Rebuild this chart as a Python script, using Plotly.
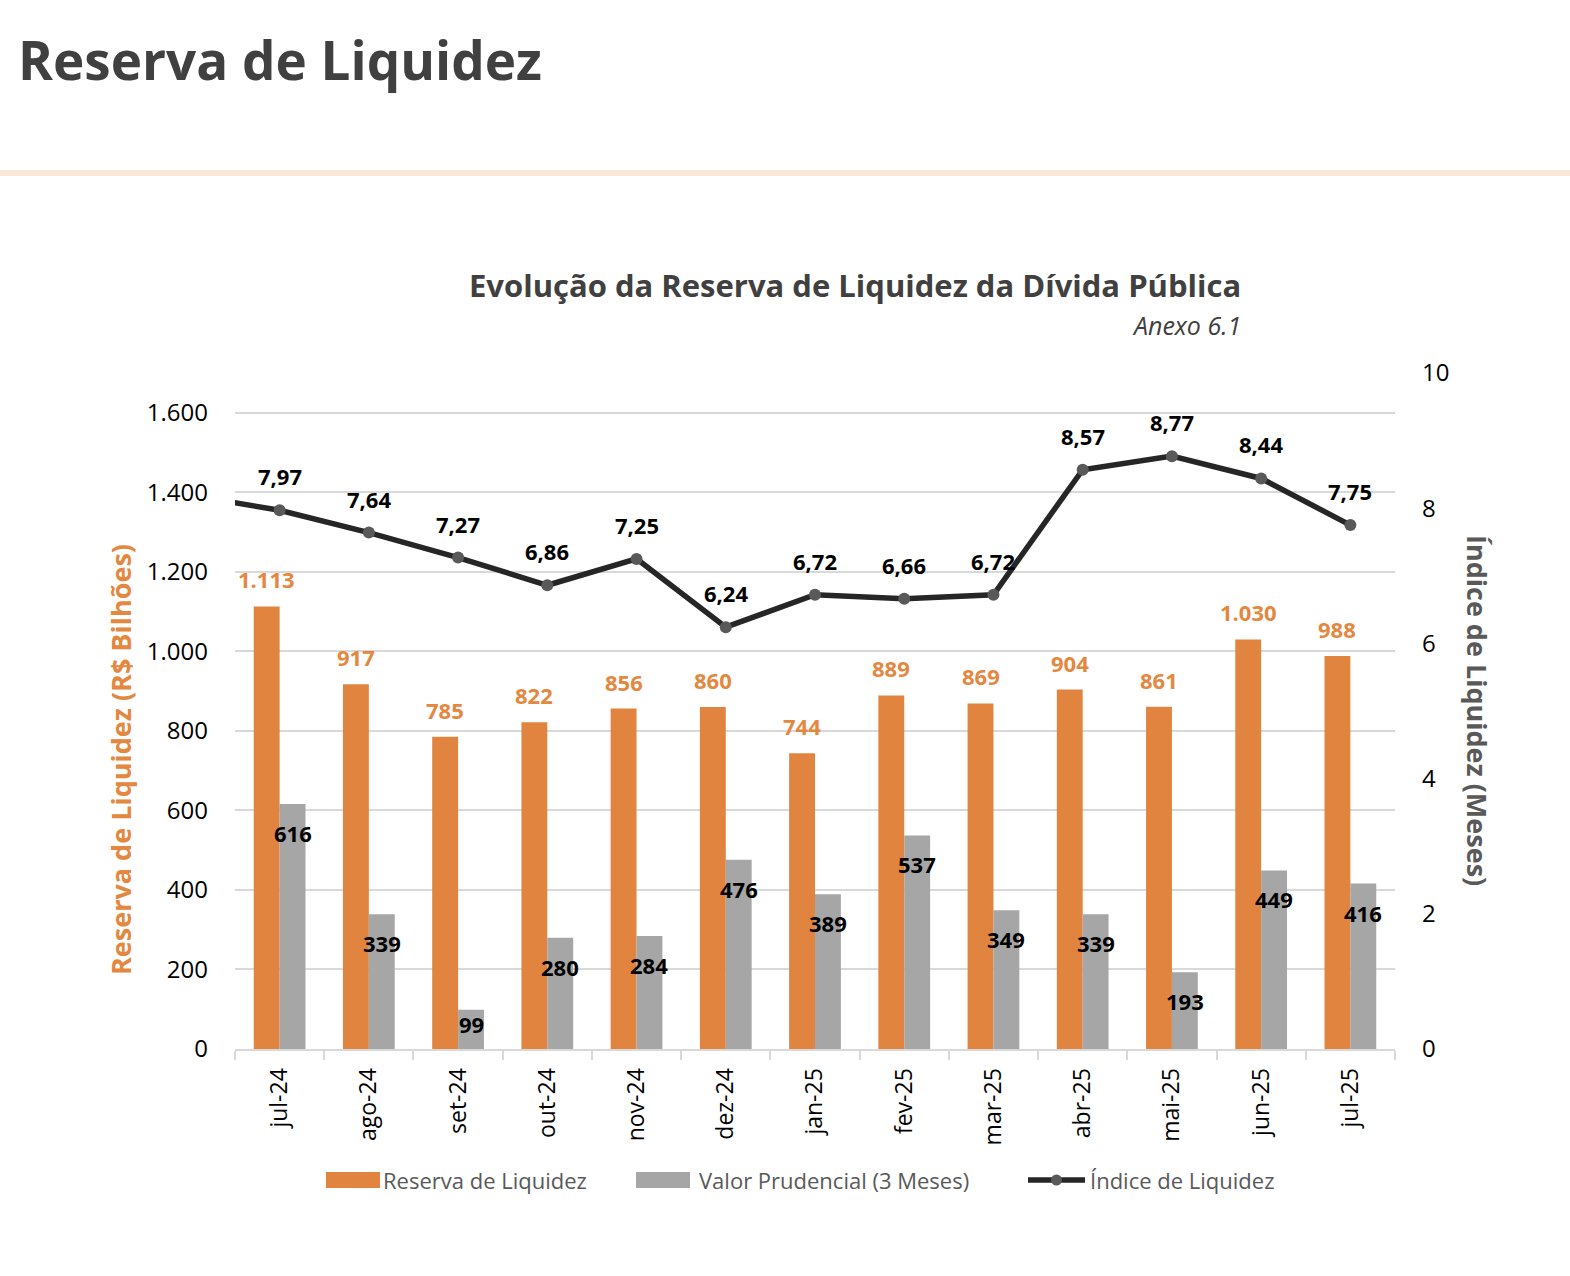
import plotly.graph_objects as go

# ---------------- data ----------------
months = ["jul-24", "ago-24", "set-24", "out-24", "nov-24", "dez-24", "jan-25",
          "fev-25", "mar-25", "abr-25", "mai-25", "jun-25", "jul-25"]
reserva = [1113, 917, 785, 822, 856, 860, 744, 889, 869, 904, 861, 1030, 988]
prudencial = [616, 339, 99, 280, 284, 476, 389, 537, 349, 339, 193, 449, 416]
indice = [7.97, 7.64, 7.27, 6.86, 7.25, 6.24, 6.72, 6.66, 6.72, 8.57, 8.77, 8.44, 7.75]
# previous month (jun-24), only its segment entering the plot is visible
indice_prev = 8.19

left_ticks = [0, 200, 400, 600, 800, 1000, 1200, 1400, 1600]
left_ticktext = ["0", "200", "400", "600", "800", "1.000", "1.200", "1.400", "1.600"]
right_ticks = [0, 2, 4, 6, 8, 10]

# ---------------- style ----------------
W, H = 1570, 1276
FONT = "Open Sans"
ORANGE = "#E0843F"
ORANGE_TXT = "#E4873F"
GRAY = "#A6A6A6"
LINE = "#262626"
MARK = "#595959"
DARK = "#404040"
GRID = "#D9D9D9"

PX_L, PX_R, PX_T, PX_B = 235, 1395, 373, 1049
L_MAX, R_MAX = 1700, 10
px_per_unit = (PX_B - PX_T) / L_MAX


def px(x):
    return x / W


def py(y):
    return 1 - y / H


def fmt_int(v):
    return f"{v:,}".replace(",", ".")


def fmt_dec(v):
    return f"{v:.2f}".replace(".", ",")


xs = list(range(len(months)))
BW = 0.29

fig = go.Figure()
fig.add_trace(go.Bar(x=xs, y=reserva, width=BW, offset=-BW, marker_color=ORANGE,
                     marker_line_width=0, name="Reserva de Liquidez", showlegend=False))
fig.add_trace(go.Bar(x=xs, y=prudencial, width=BW, offset=0, marker_color=GRAY,
                     marker_line_width=0, name="Valor Prudencial (3 Meses)", showlegend=False))
fig.add_trace(go.Scatter(x=[-1] + xs, y=[indice_prev] + indice, yaxis="y2", mode="lines+markers",
                         line=dict(color=LINE, width=5.5),
                         marker=dict(color=MARK, size=12, line=dict(width=0)),
                         name="Índice de Liquidez", showlegend=False, cliponaxis=True))

ann = []
for i, v in enumerate(reserva):
    ann.append(dict(x=i - BW / 2, y=v, xref="x", yref="y", text=f"<b>{fmt_int(v)}</b>",
                    showarrow=False, yshift=27, font=dict(family=FONT, size=22, color=ORANGE_TXT)))
for i, v in enumerate(prudencial):
    shift = -min(29, v * px_per_unit - 25)
    ann.append(dict(x=i + BW / 2, y=v, xref="x", yref="y", text=f"<b>{fmt_int(v)}</b>",
                    showarrow=False, yshift=shift, font=dict(family=FONT, size=22, color="#000000")))
for i, v in enumerate(indice):
    ann.append(dict(x=i, y=v, xref="x", yref="y2", text=f"<b>{fmt_dec(v)}</b>",
                    showarrow=False, yshift=34, font=dict(family=FONT, size=22, color="#000000")))

# titles
ann.append(dict(x=px(16), y=py(59), xref="paper", yref="paper", xanchor="left", yanchor="middle",
                text="<b>Reserva de Liquidez</b>", showarrow=False,
                font=dict(family=FONT, size=53, color=DARK)))
ann.append(dict(x=px(1243), y=py(285), xref="paper", yref="paper", xanchor="right", yanchor="middle",
                text="<b>Evolução da Reserva de Liquidez da Dívida Pública</b>", showarrow=False,
                font=dict(family=FONT, size=31, color=DARK)))
ann.append(dict(x=px(1243), y=py(325), xref="paper", yref="paper", xanchor="right", yanchor="middle",
                text="<i>Anexo 6.1</i>", showarrow=False,
                font=dict(family=FONT, size=25, color=DARK)))
# axis titles
ann.append(dict(x=px(120), y=py(760), xref="paper", yref="paper", xanchor="center", yanchor="middle",
                text="<b>Reserva de Liquidez (R$ Bilhões)</b>", textangle=-90, showarrow=False,
                font=dict(family=FONT, size=27, color=ORANGE_TXT)))
ann.append(dict(x=px(1478), y=py(710), xref="paper", yref="paper", xanchor="center", yanchor="middle",
                text="<b>Índice de Liquidez (Meses)</b>", textangle=90, showarrow=False,
                font=dict(family=FONT, size=27, color="#595959")))

# custom legend
LEG_Y = 1180
shapes = [
    dict(type="line", xref="paper", yref="paper", x0=0, x1=1, y0=py(173), y1=py(173),
         line=dict(color="#FBE8D9", width=6)),
    dict(type="rect", xref="paper", yref="paper", x0=px(326), x1=px(380), y0=py(LEG_Y - 8),
         y1=py(LEG_Y + 8), fillcolor=ORANGE, line=dict(width=0)),
    dict(type="rect", xref="paper", yref="paper", x0=px(636), x1=px(690), y0=py(LEG_Y - 8),
         y1=py(LEG_Y + 8), fillcolor=GRAY, line=dict(width=0)),
    dict(type="line", xref="paper", yref="paper", x0=px(1028), x1=px(1085), y0=py(LEG_Y),
         y1=py(LEG_Y), line=dict(color=LINE, width=5.5)),
    dict(type="circle", xref="paper", yref="paper", x0=px(1051), x1=px(1062), y0=py(LEG_Y - 5.5),
         y1=py(LEG_Y + 5.5), fillcolor=MARK, line=dict(width=0)),
]
for xx, t in [(381, "Reserva de Liquidez"), (697, "Valor Prudencial (3 Meses)"), (1088, "Índice de Liquidez")]:
    ann.append(dict(x=px(xx), y=py(LEG_Y), xref="paper", yref="paper", xanchor="left", yanchor="middle",
                    text=t, showarrow=False, font=dict(family=FONT, size=22, color="#595959")))

fig.update_layout(
    template="none",
    width=W, height=H, autosize=False,
    margin=dict(l=0, r=0, t=0, b=0, pad=0, autoexpand=False),
    paper_bgcolor="white", plot_bgcolor="white",
    barmode="overlay",
    showlegend=False,
    font=dict(family=FONT, color="#000000"),
    xaxis=dict(domain=[px(PX_L), px(PX_R)], range=[-0.5, len(months) - 0.5], automargin=False,
               tickmode="array", tickvals=xs, ticktext=months, tickangle=-90,
               ticks="", ticklabelstandoff=8,
               tickfont=dict(family=FONT, size=23, color="#000000"),
               showline=True, linecolor=GRID, linewidth=2, showgrid=False, zeroline=False,
               minor=dict(tickmode="array", tickvals=[i - 0.5 for i in range(len(months) + 1)],
                          ticks="outside", ticklen=9, tickcolor=GRID, tickwidth=2, showgrid=False)),
    yaxis=dict(domain=[py(PX_B), py(PX_T)], range=[0, L_MAX], tickmode="array", automargin=False,
               tickvals=left_ticks, ticktext=left_ticktext, ticks="", ticklabelstandoff=26,
               tickfont=dict(family=FONT, size=24, color="#000000"),
               showgrid=True, gridcolor=GRID, gridwidth=2, zeroline=False, showline=False),
    yaxis2=dict(domain=[py(PX_B), py(PX_T)], range=[0, R_MAX], overlaying="y", side="right",
                anchor="x", tickmode="array", tickvals=right_ticks, ticks="", ticklabelstandoff=26,
                automargin=False, tickfont=dict(family=FONT, size=24, color="#000000"),
                showgrid=False, zeroline=False, showline=False),
    annotations=ann,
    shapes=shapes,
)

fig.write_html("out.html")
